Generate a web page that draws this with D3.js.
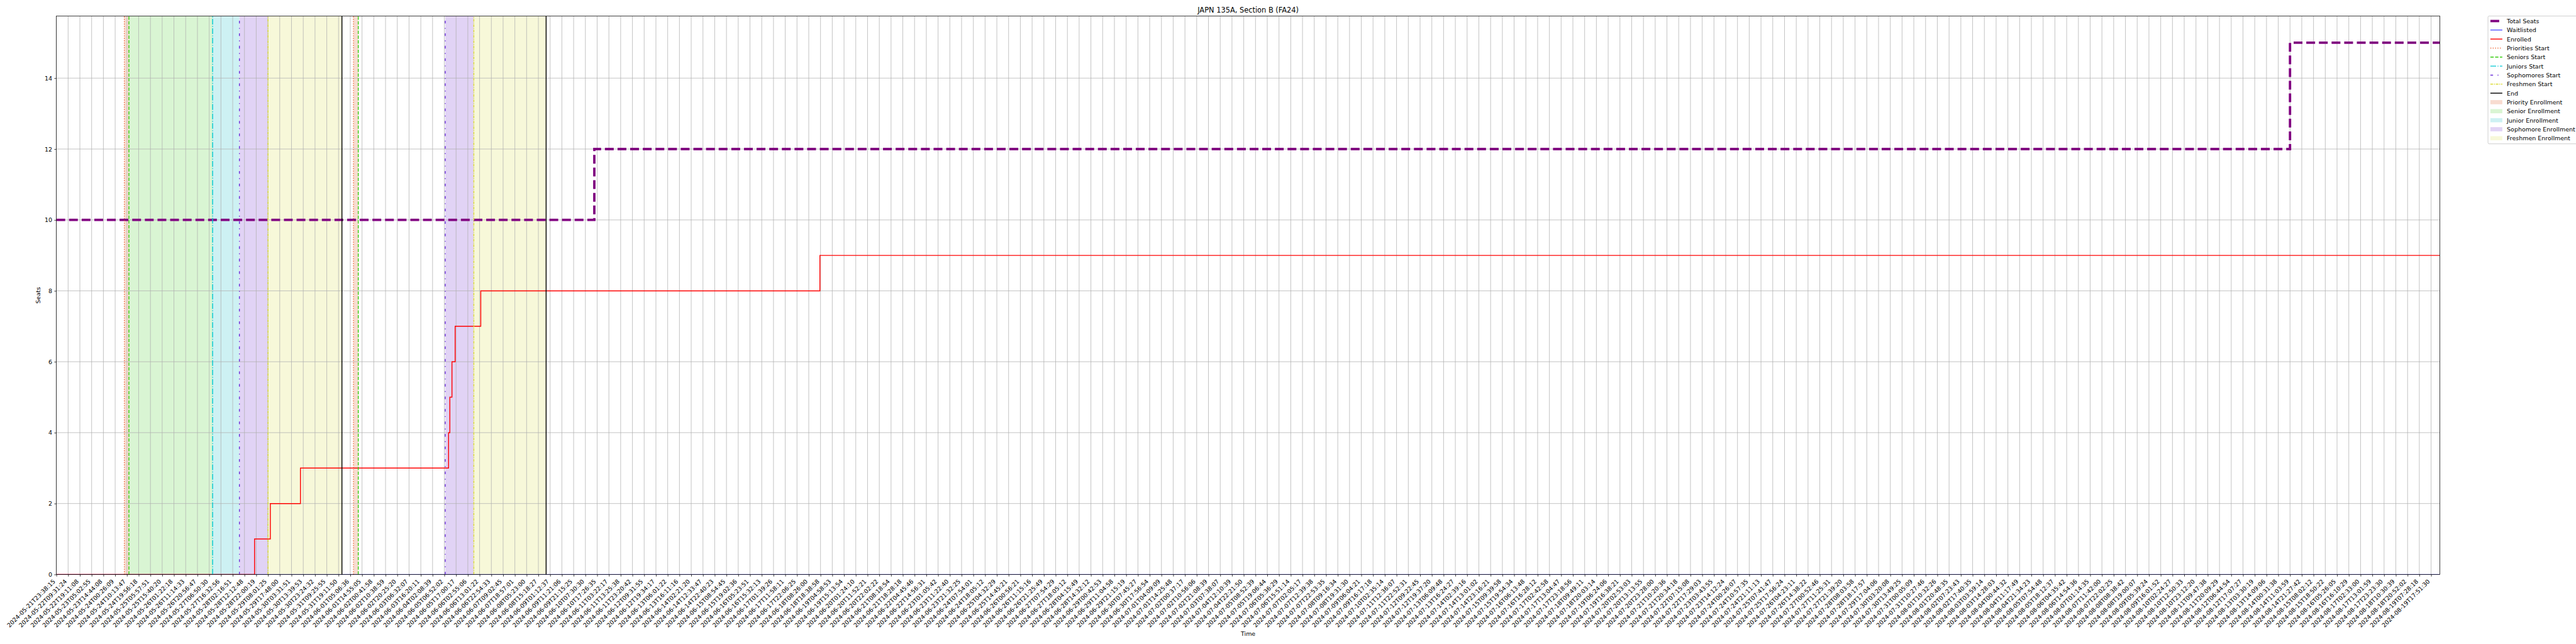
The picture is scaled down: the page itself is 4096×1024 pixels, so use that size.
<!DOCTYPE html>
<html>
<head>
<meta charset="utf-8">
<script src="https://cdn.jsdelivr.net/npm/d3@7"></script>
<style>
html,body{margin:0;padding:0;background:#fff;}
svg{display:block;}
text{font-family:"DejaVu Sans",sans-serif;}
</style>
</head>
<body>
<svg id="chart" width="4096" height="1024"></svg>
<script>
// ---------------- data ----------------
const chartTitle = "JAPN 135A, Section B (FA24)";
const xLabel = "Time";
const yLabel = "Seats";

const tickLabels = [
"2024-05-21T23:38:15","2024-05-22T09:31:24","2024-05-22T19:11:08","2024-05-23T05:02:55","2024-05-23T14:44:08",
"2024-05-24T00:26:09","2024-05-24T10:13:47","2024-05-24T19:56:18","2024-05-25T05:57:51","2024-05-25T15:40:20",
"2024-05-26T01:22:18","2024-05-26T11:14:33","2024-05-26T20:56:47","2024-05-27T06:50:30","2024-05-27T16:32:56",
"2024-05-28T02:16:51","2024-05-28T12:12:48","2024-05-28T22:00:19","2024-05-29T08:01:25","2024-05-29T17:48:00",
"2024-05-30T03:31:51","2024-05-30T13:39:53","2024-05-30T23:24:32","2024-05-31T09:25:55","2024-05-31T19:11:50",
"2024-06-01T05:06:36","2024-06-01T14:55:05","2024-06-02T00:41:58","2024-06-02T10:38:59","2024-06-02T20:25:20",
"2024-06-03T06:32:07","2024-06-03T16:20:11","2024-06-04T02:08:39","2024-06-05T06:52:02","2024-06-05T17:00:17",
"2024-06-06T02:55:06","2024-06-06T13:01:22","2024-06-06T22:54:33","2024-06-07T09:02:45","2024-06-07T18:57:01",
"2024-06-08T05:23:00","2024-06-08T15:18:27","2024-06-09T01:12:37","2024-06-09T11:21:06","2024-06-09T21:15:25",
"2024-06-10T07:30:30","2024-06-10T17:26:35","2024-06-11T03:22:17","2024-06-11T13:25:38","2024-06-11T23:20:42",
"2024-06-12T09:31:55","2024-06-12T19:34:17","2024-06-13T06:01:22","2024-06-13T16:11:16","2024-06-14T02:21:20",
"2024-06-14T12:33:47","2024-06-14T22:40:23","2024-06-15T08:54:45","2024-06-15T19:02:36","2024-06-16T05:23:51",
"2024-06-16T15:32:13","2024-06-17T01:39:26","2024-06-17T11:58:11","2024-06-17T22:06:25","2024-06-18T08:26:00",
"2024-06-18T18:38:58","2024-06-19T04:58:53","2024-06-19T15:13:54","2024-06-20T01:24:10","2024-06-20T11:52:21",
"2024-06-20T22:02:22","2024-06-21T08:18:54","2024-06-21T18:28:18","2024-06-22T04:45:46","2024-06-22T14:56:31",
"2024-06-23T01:05:42","2024-06-23T11:22:40","2024-06-23T21:32:25","2024-06-24T07:54:01","2024-06-24T18:05:12",
"2024-06-25T04:32:29","2024-06-25T14:45:21","2024-06-26T00:56:21","2024-06-26T11:15:16","2024-06-26T21:25:49",
"2024-06-27T07:54:29","2024-06-27T18:05:12","2024-06-28T04:15:49","2024-06-28T14:32:12","2024-06-29T00:42:53",
"2024-06-29T11:04:58","2024-06-29T21:15:19","2024-06-30T07:45:27","2024-06-30T17:56:54","2024-07-01T04:09:09",
"2024-07-01T14:25:48","2024-07-02T00:37:17","2024-07-02T10:56:06","2024-07-02T21:08:39","2024-07-03T07:38:07",
"2024-07-04T12:10:39","2024-07-04T22:21:50","2024-07-05T08:52:39","2024-07-05T19:06:44","2024-07-06T05:36:29",
"2024-07-06T15:51:14","2024-07-07T02:05:17","2024-07-07T12:39:38","2024-07-07T22:53:35","2024-07-08T09:16:34",
"2024-07-08T19:31:30","2024-07-09T06:04:21","2024-07-09T16:17:18","2024-07-10T02:35:14","2024-07-11T12:36:07",
"2024-07-11T22:52:31","2024-07-12T09:22:45","2024-07-12T19:37:20","2024-07-13T06:09:48","2024-07-13T16:24:27",
"2024-07-14T02:39:16","2024-07-14T13:01:02","2024-07-14T23:16:21","2024-07-15T09:39:58","2024-07-15T19:54:34",
"2024-07-16T06:13:48","2024-07-16T16:28:12","2024-07-17T02:42:58","2024-07-17T13:04:47","2024-07-17T23:18:56",
"2024-07-18T09:49:11","2024-07-18T20:03:14","2024-07-19T06:24:06","2024-07-19T16:38:21","2024-07-20T02:53:03",
"2024-07-20T13:13:55","2024-07-20T23:28:00","2024-07-21T10:20:36","2024-07-21T20:34:18","2024-07-22T07:15:08",
"2024-07-22T17:29:03","2024-07-23T03:43:55","2024-07-23T14:12:24","2024-07-24T00:26:07","2024-07-24T10:57:35",
"2024-07-24T21:11:13","2024-07-25T07:41:47","2024-07-25T17:56:24","2024-07-26T04:23:11","2024-07-26T14:38:22",
"2024-07-27T00:52:46","2024-07-27T11:25:31","2024-07-27T21:39:20","2024-07-28T08:03:58","2024-07-28T18:17:57",
"2024-07-29T17:04:06","2024-07-30T03:20:08","2024-07-30T13:49:25","2024-07-31T00:05:09","2024-07-31T10:27:46",
"2024-08-01T10:32:26","2024-08-01T20:48:35","2024-08-02T07:23:43","2024-08-02T17:40:35","2024-08-03T03:59:14",
"2024-08-03T14:28:03","2024-08-04T00:44:32","2024-08-04T11:17:49","2024-08-04T21:34:23","2024-08-05T07:54:48",
"2024-08-05T18:12:37","2024-08-06T04:35:42","2024-08-06T14:54:36","2024-08-07T01:14:35","2024-08-07T11:42:00",
"2024-08-07T22:02:25","2024-08-08T08:38:42","2024-08-08T19:00:07","2024-08-09T05:39:24","2024-08-09T16:01:52",
"2024-08-10T02:24:27","2024-08-10T12:50:33","2024-08-10T23:12:20","2024-08-11T09:47:38","2024-08-11T20:09:29",
"2024-08-12T06:44:54","2024-08-12T17:07:27","2024-08-13T03:30:19","2024-08-13T14:09:06","2024-08-14T00:31:38",
"2024-08-14T11:03:59","2024-08-14T21:27:42","2024-08-15T08:02:12","2024-08-15T18:50:22","2024-08-16T05:26:05",
"2024-08-16T16:10:29","2024-08-17T02:33:00","2024-08-17T13:01:59","2024-08-17T23:23:30","2024-08-18T10:30:39",
"2024-08-18T20:52:02","2024-08-19T07:28:18","2024-08-19T17:51:30"
];
// x positions are in tick-index units (position along the categorical time axis)
const xEnd = 202.75;
const yTicks = [0, 2, 4, 6, 8, 10, 12, 14];
const yMax = 15.75;

// Total seats (step-post)
const seatsX = [0, 45.76, 190.0];
const seatsY = [10, 12, 15];
// Waitlisted
const waitX = [0];
const waitY = [0];
// Enrolled
const enrolledX = [0, 16.86, 18.20, 20.76, 33.36, 33.47, 33.65, 33.92, 36.10, 64.95];
const enrolledY = [0, 1, 2, 3, 4, 5, 6, 7, 8, 9];

// enrollment phase markers (two registration passes)
const prioritiesStart = [5.78, 25.27];
const seniorsStart   = [6.17, 25.68];
const juniorsStart   = [13.29];
const sophomoresStart= [15.57, 33.08];
const freshmenStart  = [18.00, 35.51];
const endMarks       = [24.29, 41.66];

// shaded periods [start, end]
const priorityPeriods = [[5.78, 6.17], [25.27, 25.68]];
const seniorPeriods   = [[6.17, 13.29]];
const juniorPeriods   = [[13.29, 15.57]];
const sophomorePeriods= [[15.57, 18.00], [33.08, 35.51]];
const freshmenPeriods = [[18.00, 24.29], [35.51, 41.66]];

// ---------------- layout ----------------
const S = 4096 / 6000;
const L = 131.3 * S, R = 5683 * S, T = 37.5 * S, B = 1338 * S;
const FS = 13.9 * S;           // 10pt
const lw = pt => pt * 100 / 72 * S;

const svg = d3.select("#chart");
svg.append("rect").attr("width", 4096).attr("height", 1024).attr("fill", "#fff");

const x = d3.scaleLinear().domain([0, xEnd]).range([L, R]);
const y = d3.scaleLinear().domain([0, yMax]).range([B, T]);

svg.append("defs").append("clipPath").attr("id", "plotclip")
  .append("rect").attr("x", L).attr("y", T).attr("width", R - L).attr("height", B - T);

const plot = svg.append("g").attr("clip-path", "url(#plotclip)");

// styles
const spanStyles = [
  {name: "Priority Enrollment", data: priorityPeriods, color: "#f8dcd0"},
  {name: "Senior Enrollment", data: seniorPeriods, color: "#d9f5d3"},
  {name: "Junior Enrollment", data: juniorPeriods, color: "#cdf1f3"},
  {name: "Sophomore Enrollment", data: sophomorePeriods, color: "#e1d3f5"},
  {name: "Freshmen Enrollment", data: freshmenPeriods, color: "#f7f8d9"}
];
const u = lw(1.5);
const markerStyles = [
  {name: "Priorities Start", data: prioritiesStart, color: "#f06a3a", w: lw(1.5), dash: [1*u, 1.65*u]},
  {name: "Seniors Start", data: seniorsStart, color: "#38cc10", w: lw(1.5), dash: [3.7*u, 1.6*u]},
  {name: "Juniors Start", data: juniorsStart, color: "#00c8d2", w: lw(1.5), dash: [6.4*u, 1.6*u, 1*u, 1.6*u]},
  {name: "Sophomores Start", data: sophomoresStart, color: "#6a2fd8", w: lw(1.5), dash: [3*u, 5*u, 1*u, 5*u]},
  {name: "Freshmen Start", data: freshmenStart, color: "#dcdc38", w: lw(1.5), dash: [3*u, 1*u, 1*u, 1*u]},
  {name: "End", data: endMarks, color: "#000000", w: lw(1.5), dash: null}
];

// shaded spans
spanStyles.forEach(s => {
  plot.selectAll(null).data(s.data).enter().append("rect")
    .attr("x", d => x(d[0])).attr("y", T)
    .attr("width", d => x(d[1]) - x(d[0])).attr("height", B - T)
    .attr("fill", s.color);
});

// grid
const xTickVals = d3.range(tickLabels.length);
plot.selectAll(null).data(xTickVals).enter().append("line")
  .attr("x1", d => x(d)).attr("x2", d => x(d)).attr("y1", T).attr("y2", B)
  .attr("stroke", "#b0b0b0").attr("stroke-width", lw(0.8));
plot.selectAll(null).data(yTicks).enter().append("line")
  .attr("x1", L).attr("x2", R).attr("y1", d => y(d)).attr("y2", d => y(d))
  .attr("stroke", "#b0b0b0").attr("stroke-width", lw(0.8));

// step lines
function stepPts(xs, ys) {
  const pts = xs.map((v, i) => [v, ys[i]]);
  pts.push([xEnd, ys[ys.length - 1]]);
  return pts;
}
const stepLine = d3.line().x(d => x(d[0])).y(d => y(d[1])).curve(d3.curveStepAfter);

plot.append("path").attr("d", stepLine(stepPts(seatsX, seatsY)))
  .attr("fill", "none").attr("stroke", "#800080").attr("stroke-width", lw(4))
  .attr("stroke-dasharray", [3.7*lw(4), 1.6*lw(4)].join(","));
plot.append("path").attr("d", stepLine(stepPts(waitX, waitY)))
  .attr("fill", "none").attr("stroke", "#0000ff").attr("stroke-width", lw(1));
plot.append("path").attr("d", stepLine(stepPts(enrolledX, enrolledY)))
  .attr("fill", "none").attr("stroke", "#ff0000").attr("stroke-width", lw(1.5));

// vertical markers
markerStyles.forEach(m => {
  plot.selectAll(null).data(m.data).enter().append("line")
    .attr("x1", d => x(d)).attr("x2", d => x(d)).attr("y1", B).attr("y2", T)
    .attr("stroke", m.color).attr("stroke-width", m.w)
    .attr("stroke-dasharray", m.dash ? m.dash.join(",") : null);
});

// axes
const xAxis = d3.axisBottom(x).tickValues(xTickVals).tickFormat(i => tickLabels[i])
  .tickSize(lw(3.5)).tickPadding(0);
const gx = svg.append("g").attr("transform", `translate(0,${B})`).call(xAxis);
gx.select(".domain").remove();
gx.selectAll(".tick line").attr("stroke", "#000").attr("stroke-width", lw(0.8));
gx.selectAll(".tick text")
  .attr("font-size", FS).attr("fill", "#000")
  .attr("text-anchor", "end")
  .attr("y", null).attr("dy", null)
  .attr("transform", `translate(${-0.72*FS},${lw(7)}) rotate(-45)`)
  .attr("dy", "0.76em");

const yAxis = d3.axisLeft(y).tickValues(yTicks).tickFormat(d3.format("d"))
  .tickSize(lw(3.5)).tickPadding(lw(3.5));
const gy = svg.append("g").attr("transform", `translate(${L},0)`).call(yAxis);
gy.select(".domain").remove();
gy.selectAll(".tick line").attr("stroke", "#000").attr("stroke-width", lw(0.8));
gy.selectAll(".tick text").attr("font-size", FS).attr("fill", "#000").attr("dy", "0.32em");

// spines
svg.append("rect").attr("x", L).attr("y", T).attr("width", R - L).attr("height", B - T)
  .attr("fill", "none").attr("stroke", "#000").attr("stroke-width", lw(0.8));

// titles
svg.append("text").attr("x", (L + R) / 2).attr("y", 29.5 * S)
  .attr("text-anchor", "middle").attr("font-size", 16.7 * S).text(chartTitle);
svg.append("text").attr("x", (L + R) / 2).attr("y", 1481 * S)
  .attr("text-anchor", "middle").attr("font-size", FS).text(xLabel);
svg.append("text").attr("transform", `translate(${94 * S},${(T + B) / 2}) rotate(-90)`)
  .attr("text-anchor", "middle").attr("font-size", FS).text(yLabel);

// legend
const legendItems = [
  {name: "Total Seats", type: "line", color: "#800080", w: lw(4), dash: [3.7*lw(4), 1.6*lw(4)]},
  {name: "Waitlisted", type: "line", color: "#0000ff", w: lw(1), dash: null},
  {name: "Enrolled", type: "line", color: "#ff0000", w: lw(1.5), dash: null}
].concat(markerStyles.map(m => ({name: m.name, type: "line", color: m.color, w: m.w, dash: m.dash})))
 .concat(spanStyles.map(s => ({name: s.name, type: "patch", color: s.color})));

const lgX = 5795 * S, lgY = 37.3 * S, lgW = 210 * S, lgH = (335 - 37.3) * S;
const lg = svg.append("g");
lg.append("rect").attr("x", lgX).attr("y", lgY).attr("width", lgW).attr("height", lgH)
  .attr("rx", 2.8 * S).attr("fill", "#fff").attr("fill-opacity", 0.8)
  .attr("stroke", "#cccccc").attr("stroke-width", lw(1));
const rowY = i => (49 + 21 * i) * S;
const hx0 = 5800.6 * S, hx1 = 5828.4 * S, tx = 5839 * S;
legendItems.forEach((it, i) => {
  const cy = rowY(i);
  if (it.type === "line") {
    lg.append("line").attr("x1", hx0).attr("x2", hx1).attr("y1", cy).attr("y2", cy)
      .attr("stroke", it.color).attr("stroke-width", it.w)
      .attr("stroke-dasharray", it.dash ? it.dash.join(",") : null);
  } else {
    lg.append("rect").attr("x", hx0).attr("y", cy - 4.85 * S).attr("width", hx1 - hx0).attr("height", 9.7 * S)
      .attr("fill", it.color);
  }
  lg.append("text").attr("x", tx).attr("y", cy + 5.3 * S).attr("font-size", FS).text(it.name);
});
</script>
</body>
</html>
